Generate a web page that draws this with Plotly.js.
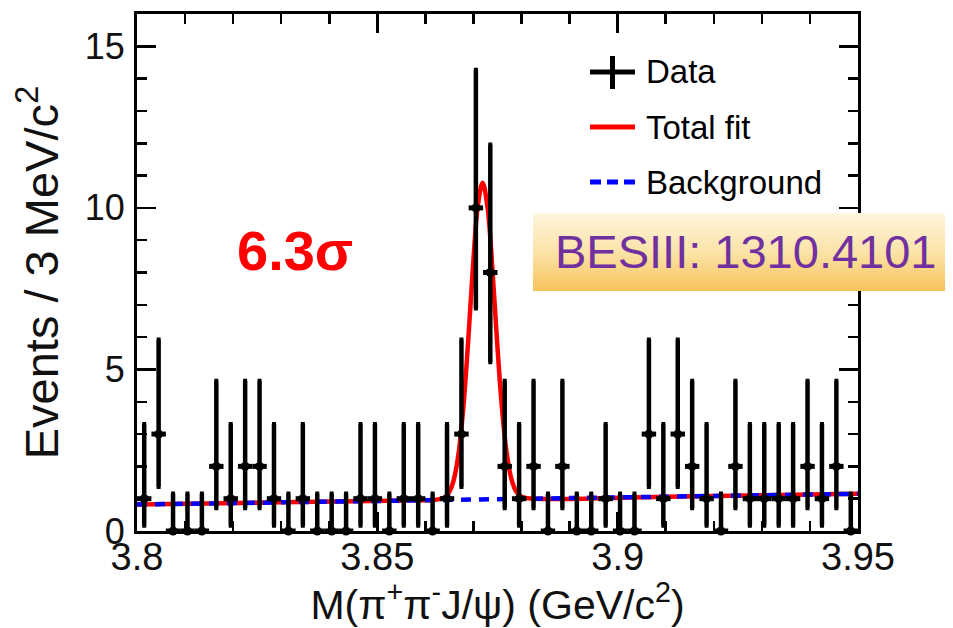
<!DOCTYPE html>
<html>
<head>
<meta charset="utf-8">
<script src="https://cdn.plot.ly/plotly-3.0.1.min.js"></script>
<style>
  html, body { margin: 0; padding: 0; background: #ffffff; }
  #chart { width: 953px; height: 628px; }
</style>
</head>
<body>
<div id="chart"></div>
<script>
// ---- Data ----
// Histogram: 50 bins of 3 MeV from 3.800 to 3.950 GeV
const binLow = 3.8;
const binWidth = 0.003;
const counts = [1, 3, 0, 0, 0, 2, 1, 2, 2, 1,
                0, 1, 0, 0, 0, 1, 1, 0, 1, 1,
                0, 1, 3, 10, 8, 2, 1, 2, 0, 2,
                0, 0, 1, 0, 0, 3, 1, 3, 2, 1,
                0, 2, 1, 1, 1, 1, 2, 1, 2, 0];

// Asymmetric (Poisson) error bars as drawn, per count value
const errCounts = [0, 1, 2, 3, 8, 10];
const errLow    = [0, 0.83, 1.29, 1.63, 2.77, 3.11];
const errHigh   = [1.15, 2.30, 2.64, 2.92, 3.95, 4.27];

// Total fit curve
const fitX = [3.8000, 3.8300, 3.8600, 3.8619, 3.8639, 3.8649, 3.8659, 3.8669, 3.8679, 3.8689,
              3.8699, 3.8709, 3.8719, 3.8729, 3.8739, 3.8749, 3.8759, 3.8769, 3.8779, 3.8789,
              3.8799, 3.8819, 3.9100, 3.9500];
const fitY = [0.820, 0.886, 0.952, 0.961, 1.033, 1.189, 1.581, 2.401, 3.833, 5.878,
              8.180, 10.051, 10.778, 10.055, 8.189, 5.891, 3.851, 2.423, 1.607, 1.220,
              1.068, 1.005, 1.062, 1.150];

// Background curve
const bkgX = [3.800, 3.850, 3.900, 3.950];
const bkgY = [0.820, 0.930, 1.040, 1.150];

// Axis ticks
const xTickVals = [3.8, 3.85, 3.9, 3.95];
const xTickText = ['3.8', '3.85', '3.9', '3.95'];
const yTickVals = [0, 5, 10, 15];
const yTickText = ['0', '5', '10', '15'];

// Legend / text labels
const legendLabels = ['Data', 'Total fit', 'Background'];
const significanceText = '6.3σ';
const referenceText = 'BESIII: 1310.4101';

// ---- Build traces ----
const binCenters = counts.map((_, i) => binLow + binWidth * (i + 0.5));
const eMinus = counts.map(c => errLow[errCounts.indexOf(c)]);
const ePlus = counts.map(c => errHigh[errCounts.indexOf(c)]);

const FONT = 'Liberation Sans, Arial, Helvetica, sans-serif';

const traceFit = {
  type: 'scatter', mode: 'lines', name: legendLabels[1],
  x: fitX, y: fitY,
  line: { color: '#ff0000', width: 4.5, shape: 'spline', smoothing: 1 },
  showlegend: false, hoverinfo: 'skip'
};
const traceBkg = {
  type: 'scatter', mode: 'lines', name: legendLabels[2],
  x: bkgX, y: bkgY,
  line: { color: '#0000ff', width: 4.5, dash: '10px,8px' },
  showlegend: false, hoverinfo: 'skip'
};
const traceData = {
  type: 'scatter', mode: 'markers', name: legendLabels[0],
  x: binCenters, y: counts,
  marker: { color: '#000000', size: 9, symbol: 'circle' },
  error_y: { type: 'data', symmetric: false, array: ePlus, arrayminus: eMinus,
             color: '#000000', thickness: 4.5, width: 2 },
  error_x: { type: 'constant', value: binWidth / 2, color: '#000000', thickness: 5, width: 0 },
  cliponaxis: false,
  showlegend: false
};

// ---- Layout geometry (pixels -> paper) ----
const L = 137, R = 858, T = 14, B = 531;
const px = v => (v - L) / (R - L);
const py = v => (B - v) / (B - T);

const shapes = [
  // legend: Data plus sign
  { type: 'line', xref: 'paper', yref: 'paper', x0: px(590), x1: px(635), y0: py(72), y1: py(72),
    line: { color: '#000', width: 5 } },
  { type: 'line', xref: 'paper', yref: 'paper', x0: px(612.5), x1: px(612.5), y0: py(56), y1: py(89),
    line: { color: '#000', width: 5 } },
  // legend: Total fit
  { type: 'line', xref: 'paper', yref: 'paper', x0: px(590), x1: px(635), y0: py(127), y1: py(127),
    line: { color: '#ff0000', width: 5 } },
  // legend: Background
  { type: 'line', xref: 'paper', yref: 'paper', x0: px(590), x1: px(635), y0: py(182), y1: py(182),
    line: { color: '#0000ff', width: 5, dash: '11px,6px' } }
];

const gradSvg = "<svg xmlns='http://www.w3.org/2000/svg' width='412' height='78' preserveAspectRatio='none'>" +
  "<defs><linearGradient id='g' x1='0' y1='0' x2='0' y2='1'>" +
  "<stop offset='0' stop-color='#fff6e0'/><stop offset='0.5' stop-color='#fbe3a8'/><stop offset='1' stop-color='#f6c35a'/>" +
  "</linearGradient></defs><rect width='412' height='78' fill='url(#g)'/></svg>";

const images = [{
  source: 'data:image/svg+xml;charset=utf-8,' + encodeURIComponent(gradSvg),
  xref: 'paper', yref: 'paper',
  x: px(533), y: py(213), sizex: px(945) - px(533), sizey: py(213) - py(291),
  xanchor: 'left', yanchor: 'top', sizing: 'stretch', layer: 'above'
}];

const annotations = [
  { xref: 'paper', yref: 'paper', x: px(644), y: py(72), xanchor: 'left', yanchor: 'middle',
    text: legendLabels[0], showarrow: false, font: { family: FONT, size: 33, color: '#000' } },
  { xref: 'paper', yref: 'paper', x: px(644), y: py(127), xanchor: 'left', yanchor: 'middle',
    text: legendLabels[1], showarrow: false, font: { family: FONT, size: 33, color: '#000' } },
  { xref: 'paper', yref: 'paper', x: px(644), y: py(182), xanchor: 'left', yanchor: 'middle',
    text: legendLabels[2], showarrow: false, font: { family: FONT, size: 33, color: '#000' } },
  { xref: 'paper', yref: 'paper', x: px(295), y: py(250), xanchor: 'center', yanchor: 'middle',
    text: '<b>' + significanceText + '</b>', showarrow: false,
    font: { family: FONT, size: 56, color: '#ff0000' } },
  { xref: 'paper', yref: 'paper', x: px(746), y: py(252), xanchor: 'center', yanchor: 'middle',
    text: referenceText, showarrow: false,
    font: { family: FONT, size: 47, color: '#7030a0' } }
];

const layout = {
  width: 953, height: 628,
  margin: { l: L, r: 953 - R, t: T, b: 628 - B, pad: 0 },
  paper_bgcolor: '#ffffff', plot_bgcolor: '#ffffff',
  showlegend: false,
  font: { family: FONT, color: '#111' },
  xaxis: {
    range: [3.8, 3.95], tickmode: 'array', tickvals: xTickVals, ticktext: xTickText,
    ticks: 'inside', ticklen: 19, tickwidth: 2.5, tickcolor: '#000',
    minor: { dtick: 0.01, tick0: 3.8, ticks: 'inside', ticklen: 10, tickwidth: 2.5, tickcolor: '#000', showgrid: false },
    showline: true, linecolor: '#000', linewidth: 3, mirror: 'ticks',
    showgrid: false, zeroline: false,
    tickfont: { family: FONT, size: 38, color: '#111' },
    ticklabelstandoff: -10,
    title: { text: 'M(π<sup>+</sup>π<sup>-</sup>J/ψ) (GeV/c<sup>2</sup>)', standoff: 4,
             font: { family: FONT, size: 41, color: '#111' } },
    automargin: false
  },
  yaxis: {
    range: [0, 16], tickmode: 'array', tickvals: yTickVals, ticktext: yTickText,
    ticks: 'inside', ticklen: 19, tickwidth: 2.5, tickcolor: '#000',
    minor: { dtick: 1, tick0: 0, ticks: 'inside', ticklen: 10, tickwidth: 2.5, tickcolor: '#000', showgrid: false },
    showline: true, linecolor: '#000', linewidth: 3, mirror: 'ticks',
    showgrid: false, zeroline: false,
    tickfont: { family: FONT, size: 36, color: '#111' },
    ticklabelstandoff: 2,
    title: { text: 'Events / 3 MeV/c<sup>2</sup>', standoff: 12,
             font: { family: FONT, size: 47, color: '#111' } },
    automargin: false
  },
  shapes: shapes,
  images: images,
  annotations: annotations
};

Plotly.newPlot('chart', [traceFit, traceBkg, traceData], layout, { displayModeBar: false, staticPlot: true });
</script>
</body>
</html>
